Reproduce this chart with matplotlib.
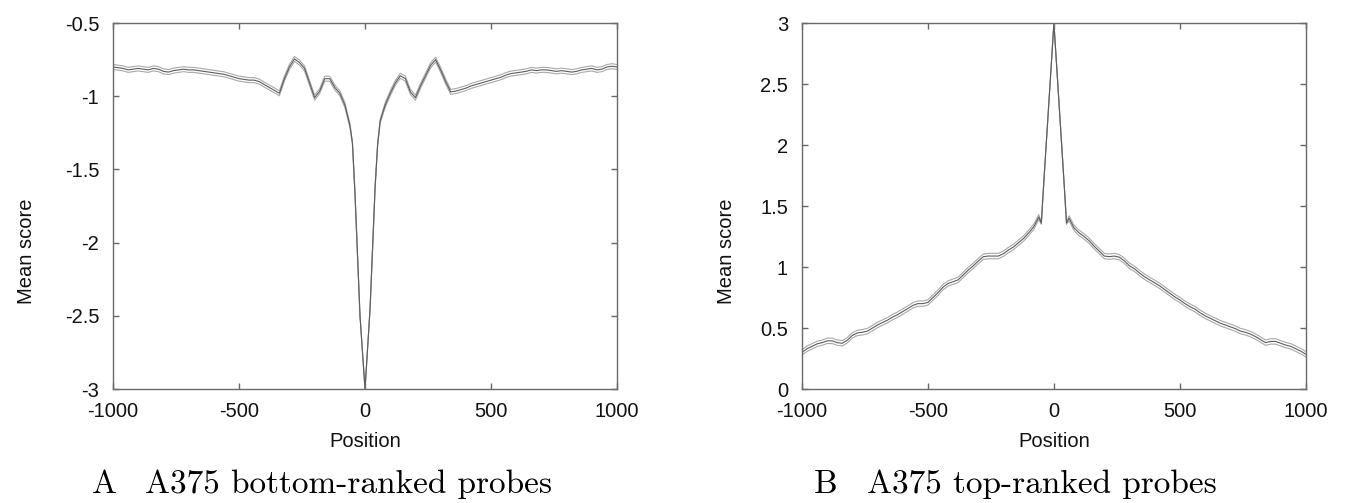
import numpy as np
import matplotlib.pyplot as plt
from matplotlib.ticker import FuncFormatter

plt.rcParams["axes.unicode_minus"] = False
plt.rcParams["font.family"] = ["Liberation Sans", "DejaVu Sans"]

# Probe positions (bp from centre); finer steps around the centre
positions = np.concatenate([np.arange(-1000, -59, 20),
                            [-50, -40, -20, 0, 20, 40, 50],
                            np.arange(60, 1001, 20)])

# Panel A: A375 bottom-ranked probes, mean score
mean_bottom = [
    -0.80, -0.805, -0.81, -0.82, -0.815, -0.81, -0.815, -0.82, -0.81, -0.815,
    -0.83, -0.835, -0.825, -0.82, -0.815, -0.82, -0.82, -0.825, -0.83, -0.835,
    -0.84, -0.845, -0.85, -0.86, -0.87, -0.88, -0.885, -0.89, -0.89, -0.90,
    -0.92, -0.94, -0.96, -0.98, -0.88, -0.80, -0.745, -0.77, -0.81, -0.91,
    -1.01, -0.965, -0.88, -0.88, -0.94, -0.98, -1.06, -1.20,
    -1.32, -1.66, -2.50, -3.00, -2.45, -1.62, -1.33,
    -1.17, -1.06, -0.98, -0.91, -0.86, -0.88, -0.97, -1.01, -0.93, -0.86,
    -0.79, -0.75, -0.82, -0.90, -0.97, -0.965, -0.955, -0.945, -0.93, -0.92,
    -0.91, -0.90, -0.89, -0.88, -0.87, -0.855, -0.845, -0.84, -0.835, -0.83,
    -0.82, -0.825, -0.82, -0.82, -0.825, -0.83, -0.825, -0.83, -0.835, -0.83,
    -0.82, -0.815, -0.81, -0.82, -0.815, -0.80, -0.795, -0.80,
]
sem_bottom = ([0.017] * 47 + [0.013, 0.008, 0.005, 0.003, 0.002, 0.003, 0.005, 0.008]
              + [0.013] + [0.017] * 47)

# Panel B: A375 top-ranked probes, mean score
mean_top = [
    0.30, 0.33, 0.35, 0.37, 0.38, 0.395, 0.395, 0.38, 0.375, 0.40,
    0.44, 0.46, 0.465, 0.475, 0.50, 0.525, 0.545, 0.565, 0.59, 0.61,
    0.635, 0.66, 0.685, 0.70, 0.70, 0.71, 0.75, 0.79, 0.835, 0.865,
    0.88, 0.895, 0.935, 0.975, 1.01, 1.05, 1.085, 1.09, 1.09, 1.09,
    1.11, 1.14, 1.165, 1.20, 1.235, 1.28, 1.33, 1.41,
    1.36, 1.70, 2.35, 3.00, 2.35, 1.70, 1.36,
    1.40, 1.32, 1.28, 1.25, 1.215, 1.17, 1.13, 1.09, 1.085, 1.09,
    1.08, 1.05, 1.01, 0.985, 0.95, 0.92, 0.895, 0.87, 0.845, 0.815,
    0.785, 0.755, 0.73, 0.70, 0.675, 0.655, 0.625, 0.60, 0.58, 0.56,
    0.54, 0.525, 0.51, 0.495, 0.475, 0.465, 0.45, 0.43, 0.405, 0.38,
    0.39, 0.39, 0.375, 0.36, 0.35, 0.33, 0.31, 0.285,
]
sem_top = ([0.022] * 47 + [0.02, 0.01, 0.004, 0.003, 0.002, 0.003, 0.004, 0.01]
           + [0.02] + [0.022] * 47)

panels = [
    ("A", "A375 bottom-ranked probes", mean_bottom, sem_bottom, (-3, -0.5), np.arange(-3, -0.49, 0.5)),
    ("B", "A375 top-ranked probes", mean_top, sem_top, (0, 3), np.arange(0, 3.01, 0.5)),
]

fig = plt.figure(figsize=(13.46, 5.03), dpi=100)
axes_pos = [[0.0840, 0.2266, 0.3744, 0.7276], [0.5958, 0.2266, 0.3744, 0.7276]]
ylabel_x = [36, 736]
caption_x = [(92, 145), (814, 867)]

fmt = FuncFormatter(lambda v, p: ("%g" % round(v, 2)))
serif = ["cmr10", "DejaVu Serif"]

for i, (letter, caption, mean, sem, ylim, yticks) in enumerate(panels):
    ax = fig.add_axes(axes_pos[i])
    mean = np.array(mean)
    sem = np.array(sem)
    # mean +/- error lines, then the mean on top
    ax.plot(positions, mean + sem, color="#a8a8a8", lw=0.8)
    ax.plot(positions, mean - sem, color="#a8a8a8", lw=0.8)
    ax.plot(positions, mean, color="#5c5c5c", lw=0.8)

    ax.set_xlim(-1000, 1000)
    ax.set_ylim(*ylim)
    ax.set_xticks([-1000, -500, 0, 500, 1000])
    ax.set_yticks(yticks)
    ax.yaxis.set_major_formatter(fmt)
    ax.tick_params(direction="in", length=4, width=1, color="#666666",
                   top=True, right=True, labelsize=14.5, labelcolor="#111111")
    ax.tick_params(axis="x", pad=9)
    ax.tick_params(axis="y", pad=10)
    for s in ax.spines.values():
        s.set_color("#6a6a6a")
        s.set_linewidth(1.0)

    ax.set_xlabel("Position", fontsize=14.5, color="#111111")
    ax.xaxis.set_label_coords(axes_pos[i][0] + axes_pos[i][2] / 2, 0.141,
                              transform=fig.transFigure)
    ax.set_ylabel("Mean score", fontsize=14.5, color="#111111")
    ax.yaxis.set_label_coords(ylabel_x[i] / 1346, 0.5, transform=fig.transFigure)

    fig.text(caption_x[i][0] / 1346, 0.02, letter, fontsize=24,
             family=serif, va="baseline")
    fig.text(caption_x[i][1] / 1346, 0.02, caption, fontsize=24,
             family=serif, va="baseline")

fig.savefig("out.png", dpi=100)
